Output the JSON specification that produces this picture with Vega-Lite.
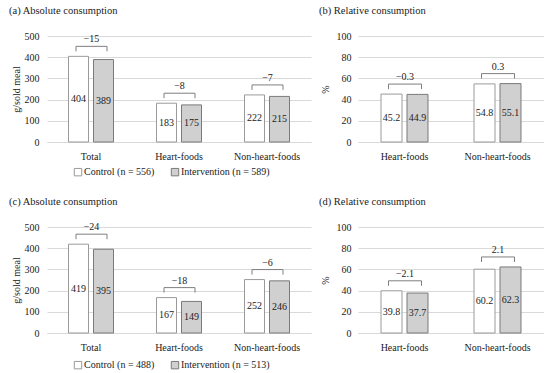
{
  "$schema": "https://vega.github.io/schema/vega-lite/v6.json",
  "padding": {"left": 9, "top": 5, "right": 0, "bottom": 0},
  "datasets": {
    "a_bars": [
      {"cat": "Total", "series": "Control", "value": 404},
      {"cat": "Total", "series": "Intervention", "value": 389},
      {"cat": "Heart-foods", "series": "Control", "value": 183},
      {"cat": "Heart-foods", "series": "Intervention", "value": 175},
      {"cat": "Non-heart-foods", "series": "Control", "value": 222},
      {"cat": "Non-heart-foods", "series": "Intervention", "value": 215}
    ],
    "a_diff": [
      {"cat": "Total", "top": 404, "diff": "−15"},
      {"cat": "Heart-foods", "top": 183, "diff": "−8"},
      {"cat": "Non-heart-foods", "top": 222, "diff": "−7"}
    ],
    "b_bars": [
      {"cat": "Heart-foods", "series": "Control", "value": 45.2},
      {"cat": "Heart-foods", "series": "Intervention", "value": 44.9},
      {"cat": "Non-heart-foods", "series": "Control", "value": 54.8},
      {"cat": "Non-heart-foods", "series": "Intervention", "value": 55.1}
    ],
    "b_diff": [
      {"cat": "Heart-foods", "top": 45.2, "diff": "−0.3"},
      {"cat": "Non-heart-foods", "top": 55.1, "diff": "0.3"}
    ],
    "c_bars": [
      {"cat": "Total", "series": "Control", "value": 419},
      {"cat": "Total", "series": "Intervention", "value": 395},
      {"cat": "Heart-foods", "series": "Control", "value": 167},
      {"cat": "Heart-foods", "series": "Intervention", "value": 149},
      {"cat": "Non-heart-foods", "series": "Control", "value": 252},
      {"cat": "Non-heart-foods", "series": "Intervention", "value": 246}
    ],
    "c_diff": [
      {"cat": "Total", "top": 419, "diff": "−24"},
      {"cat": "Heart-foods", "top": 167, "diff": "−18"},
      {"cat": "Non-heart-foods", "top": 252, "diff": "−6"}
    ],
    "d_bars": [
      {"cat": "Heart-foods", "series": "Control", "value": 39.8},
      {"cat": "Heart-foods", "series": "Intervention", "value": 37.7},
      {"cat": "Non-heart-foods", "series": "Control", "value": 60.2},
      {"cat": "Non-heart-foods", "series": "Intervention", "value": 62.3}
    ],
    "d_diff": [
      {"cat": "Heart-foods", "top": 39.8, "diff": "−2.1"},
      {"cat": "Non-heart-foods", "top": 62.3, "diff": "2.1"}
    ]
  },
  "spacing": 18,
  "resolve": {"scale": {"fill": "independent", "stroke": "independent", "y": "independent", "x": "independent", "xOffset": "independent"}, "legend": {"fill": "independent", "stroke": "independent"}},
  "vconcat": [
    {
      "spacing": 8,
      "resolve": {"scale": {"fill": "independent", "stroke": "independent", "y": "independent", "x": "independent", "xOffset": "independent"}, "legend": {"fill": "independent", "stroke": "independent"}},
      "hconcat": [
        {
          "title": {"text": "(a) Absolute consumption", "anchor": "start", "frame": "bounds", "dx": -2, "offset": 15},
          "width": 264, "height": 106,
          "encoding": {"x": {"field": "cat", "type": "nominal", "sort": ["Total", "Heart-foods", "Non-heart-foods"], "scale": {"paddingInner": 0, "paddingOuter": 0}, "axis": {"title": null, "labelAngle": 0, "ticks": false, "labelPadding": 9, "domainColor": "#d9d9d9", "grid": false}}},
          "layer": [
            {"data": {"name": "a_bars"}, "mark": {"type": "bar", "width": 20, "strokeWidth": 1},
             "encoding": {
               "xOffset": {"field": "series", "type": "nominal", "scale": {"paddingInner": 0, "paddingOuter": 0.76}},
               "y": {"field": "value", "type": "quantitative", "scale": {"domain": [0, 500]}, "axis": {"title": "g/sold meal", "values": [0, 100, 200, 300, 400, 500], "grid": true, "domain": false, "ticks": false, "labelPadding": 8, "titlePadding": 3}},
               "fill": {"field": "series", "type": "nominal", "scale": {"domain": ["Control", "Intervention"], "range": ["#ffffff", "#d0d0d0"]}, "legend": {"orient": "none", "legendX": 26, "legendY": 131, "direction": "horizontal", "title": null, "symbolType": "square", "symbolSize": 55, "columnPadding": 14, "labelOffset": 1, "labelExpr": "datum.label + ' (n = ' + (datum.label == 'Control' ? '556' : '589') + ')'"}},
               "stroke": {"field": "series", "type": "nominal", "scale": {"domain": ["Control", "Intervention"], "range": ["#9a9a9a", "#7a7a7a"]}, "legend": {"orient": "none", "legendX": 26, "legendY": 131, "direction": "horizontal", "title": null, "symbolType": "square", "symbolSize": 55, "columnPadding": 14, "labelOffset": 1, "labelExpr": "datum.label + ' (n = ' + (datum.label == 'Control' ? '556' : '589') + ')'"}}
             }},
            {"data": {"name": "a_bars"}, "mark": {"type": "text", "baseline": "middle"},
             "encoding": {
               "xOffset": {"field": "series", "type": "nominal"},
               "detail": {"field": "series"},
               "y": {"field": "value", "type": "quantitative", "stack": "zero", "bandPosition": 0.5, "axis": {"title": "g/sold meal", "values": [0, 100, 200, 300, 400, 500], "grid": true, "domain": false, "ticks": false, "labelPadding": 8, "titlePadding": 3}},
               "text": {"field": "value", "type": "quantitative", "format": "d"}
             }},
            {"data": {"name": "a_diff"}, "mark": {"type": "rule", "xOffset": -15, "x2Offset": 16, "yOffset": -10, "color": "#7f7f7f", "strokeWidth": 1},
             "encoding": {"x2": {"field": "cat"}, "y": {"field": "top", "type": "quantitative", "axis": {"title": "g/sold meal", "values": [0, 100, 200, 300, 400, 500], "grid": true, "domain": false, "ticks": false, "labelPadding": 8, "titlePadding": 3}}}},
            {"data": {"name": "a_diff"}, "mark": {"type": "rule", "xOffset": -15, "yOffset": -10, "y2Offset": -5, "color": "#7f7f7f", "strokeWidth": 1},
             "encoding": {"y": {"field": "top", "type": "quantitative", "axis": {"title": "g/sold meal", "values": [0, 100, 200, 300, 400, 500], "grid": true, "domain": false, "ticks": false, "labelPadding": 8, "titlePadding": 3}}, "y2": {"field": "top"}}},
            {"data": {"name": "a_diff"}, "mark": {"type": "rule", "xOffset": 16, "yOffset": -10, "y2Offset": -5, "color": "#7f7f7f", "strokeWidth": 1},
             "encoding": {"y": {"field": "top", "type": "quantitative", "axis": {"title": "g/sold meal", "values": [0, 100, 200, 300, 400, 500], "grid": true, "domain": false, "ticks": false, "labelPadding": 8, "titlePadding": 3}}, "y2": {"field": "top"}}},
            {"data": {"name": "a_diff"}, "mark": {"type": "text", "baseline": "middle", "yOffset": -17, "xOffset": 0.5},
             "encoding": {"y": {"field": "top", "type": "quantitative", "axis": {"title": "g/sold meal", "values": [0, 100, 200, 300, 400, 500], "grid": true, "domain": false, "ticks": false, "labelPadding": 8, "titlePadding": 3}}, "text": {"field": "diff"}}}
          ]
        },
        {
          "title": {"text": "(b) Relative consumption", "anchor": "start", "frame": "bounds", "dx": -1, "offset": 15},
          "width": 186, "height": 106,
          "encoding": {"x": {"field": "cat", "type": "nominal", "sort": ["Heart-foods", "Non-heart-foods"], "scale": {"paddingInner": 0, "paddingOuter": 0}, "axis": {"title": null, "labelAngle": 0, "ticks": false, "labelPadding": 9, "domainColor": "#d9d9d9", "grid": false}}},
          "layer": [
            {"data": {"name": "b_bars"}, "mark": {"type": "bar", "width": 21, "strokeWidth": 1},
             "encoding": {
               "xOffset": {"field": "series", "type": "nominal", "scale": {"paddingInner": 0, "paddingOuter": 0.79}},
               "y": {"field": "value", "type": "quantitative", "scale": {"domain": [0, 100]}, "axis": {"title": "%", "values": [0, 20, 40, 60, 80, 100], "grid": true, "domain": false, "ticks": false, "labelPadding": 7, "titlePadding": 6}},
               "fill": {"field": "series", "type": "nominal", "scale": {"domain": ["Control", "Intervention"], "range": ["#ffffff", "#d0d0d0"]}, "legend": null},
               "stroke": {"field": "series", "type": "nominal", "scale": {"domain": ["Control", "Intervention"], "range": ["#9a9a9a", "#7a7a7a"]}, "legend": null}
             }},
            {"data": {"name": "b_bars"}, "mark": {"type": "text", "baseline": "middle"},
             "encoding": {
               "xOffset": {"field": "series", "type": "nominal"},
               "detail": {"field": "series"},
               "y": {"field": "value", "type": "quantitative", "stack": "zero", "bandPosition": 0.5, "axis": {"title": "%", "values": [0, 20, 40, 60, 80, 100], "grid": true, "domain": false, "ticks": false, "labelPadding": 7, "titlePadding": 6}},
               "text": {"field": "value", "type": "quantitative", "format": ".1f"}
             }},
            {"data": {"name": "b_diff"}, "mark": {"type": "rule", "xOffset": -16, "x2Offset": 17, "yOffset": -10, "color": "#7f7f7f", "strokeWidth": 1},
             "encoding": {"x2": {"field": "cat"}, "y": {"field": "top", "type": "quantitative", "axis": {"title": "%", "values": [0, 20, 40, 60, 80, 100], "grid": true, "domain": false, "ticks": false, "labelPadding": 7, "titlePadding": 6}}}},
            {"data": {"name": "b_diff"}, "mark": {"type": "rule", "xOffset": -16, "yOffset": -10, "y2Offset": -5, "color": "#7f7f7f", "strokeWidth": 1},
             "encoding": {"y": {"field": "top", "type": "quantitative", "axis": {"title": "%", "values": [0, 20, 40, 60, 80, 100], "grid": true, "domain": false, "ticks": false, "labelPadding": 7, "titlePadding": 6}}, "y2": {"field": "top"}}},
            {"data": {"name": "b_diff"}, "mark": {"type": "rule", "xOffset": 17, "yOffset": -10, "y2Offset": -5, "color": "#7f7f7f", "strokeWidth": 1},
             "encoding": {"y": {"field": "top", "type": "quantitative", "axis": {"title": "%", "values": [0, 20, 40, 60, 80, 100], "grid": true, "domain": false, "ticks": false, "labelPadding": 7, "titlePadding": 6}}, "y2": {"field": "top"}}},
            {"data": {"name": "b_diff"}, "mark": {"type": "text", "baseline": "middle", "yOffset": -17, "xOffset": 0.5},
             "encoding": {"y": {"field": "top", "type": "quantitative", "axis": {"title": "%", "values": [0, 20, 40, 60, 80, 100], "grid": true, "domain": false, "ticks": false, "labelPadding": 7, "titlePadding": 6}}, "text": {"field": "diff"}}}
          ]
        }
      ]
    },
    {
      "spacing": 8,
      "resolve": {"scale": {"fill": "independent", "stroke": "independent", "y": "independent", "x": "independent", "xOffset": "independent"}, "legend": {"fill": "independent", "stroke": "independent"}},
      "hconcat": [
        {
          "title": {"text": "(c) Absolute consumption", "anchor": "start", "frame": "bounds", "dx": -2, "offset": 15},
          "width": 264, "height": 106,
          "encoding": {"x": {"field": "cat", "type": "nominal", "sort": ["Total", "Heart-foods", "Non-heart-foods"], "scale": {"paddingInner": 0, "paddingOuter": 0}, "axis": {"title": null, "labelAngle": 0, "ticks": false, "labelPadding": 9, "domainColor": "#d9d9d9", "grid": false}}},
          "layer": [
            {"data": {"name": "c_bars"}, "mark": {"type": "bar", "width": 20, "strokeWidth": 1},
             "encoding": {
               "xOffset": {"field": "series", "type": "nominal", "scale": {"paddingInner": 0, "paddingOuter": 0.76}},
               "y": {"field": "value", "type": "quantitative", "scale": {"domain": [0, 500]}, "axis": {"title": "g/sold meal", "values": [0, 100, 200, 300, 400, 500], "grid": true, "domain": false, "ticks": false, "labelPadding": 8, "titlePadding": 3}},
               "fill": {"field": "series", "type": "nominal", "scale": {"domain": ["Control", "Intervention"], "range": ["#ffffff", "#d0d0d0"]}, "legend": {"orient": "none", "legendX": 26, "legendY": 133, "direction": "horizontal", "title": null, "symbolType": "square", "symbolSize": 55, "columnPadding": 14, "labelOffset": 1, "labelExpr": "datum.label + ' (n = ' + (datum.label == 'Control' ? '488' : '513') + ')'"}},
               "stroke": {"field": "series", "type": "nominal", "scale": {"domain": ["Control", "Intervention"], "range": ["#9a9a9a", "#7a7a7a"]}, "legend": {"orient": "none", "legendX": 26, "legendY": 133, "direction": "horizontal", "title": null, "symbolType": "square", "symbolSize": 55, "columnPadding": 14, "labelOffset": 1, "labelExpr": "datum.label + ' (n = ' + (datum.label == 'Control' ? '488' : '513') + ')'"}}
             }},
            {"data": {"name": "c_bars"}, "mark": {"type": "text", "baseline": "middle"},
             "encoding": {
               "xOffset": {"field": "series", "type": "nominal"},
               "detail": {"field": "series"},
               "y": {"field": "value", "type": "quantitative", "stack": "zero", "bandPosition": 0.5, "axis": {"title": "g/sold meal", "values": [0, 100, 200, 300, 400, 500], "grid": true, "domain": false, "ticks": false, "labelPadding": 8, "titlePadding": 3}},
               "text": {"field": "value", "type": "quantitative", "format": "d"}
             }},
            {"data": {"name": "c_diff"}, "mark": {"type": "rule", "xOffset": -15, "x2Offset": 16, "yOffset": -10, "color": "#7f7f7f", "strokeWidth": 1},
             "encoding": {"x2": {"field": "cat"}, "y": {"field": "top", "type": "quantitative", "axis": {"title": "g/sold meal", "values": [0, 100, 200, 300, 400, 500], "grid": true, "domain": false, "ticks": false, "labelPadding": 8, "titlePadding": 3}}}},
            {"data": {"name": "c_diff"}, "mark": {"type": "rule", "xOffset": -15, "yOffset": -10, "y2Offset": -5, "color": "#7f7f7f", "strokeWidth": 1},
             "encoding": {"y": {"field": "top", "type": "quantitative", "axis": {"title": "g/sold meal", "values": [0, 100, 200, 300, 400, 500], "grid": true, "domain": false, "ticks": false, "labelPadding": 8, "titlePadding": 3}}, "y2": {"field": "top"}}},
            {"data": {"name": "c_diff"}, "mark": {"type": "rule", "xOffset": 16, "yOffset": -10, "y2Offset": -5, "color": "#7f7f7f", "strokeWidth": 1},
             "encoding": {"y": {"field": "top", "type": "quantitative", "axis": {"title": "g/sold meal", "values": [0, 100, 200, 300, 400, 500], "grid": true, "domain": false, "ticks": false, "labelPadding": 8, "titlePadding": 3}}, "y2": {"field": "top"}}},
            {"data": {"name": "c_diff"}, "mark": {"type": "text", "baseline": "middle", "yOffset": -17, "xOffset": 0.5},
             "encoding": {"y": {"field": "top", "type": "quantitative", "axis": {"title": "g/sold meal", "values": [0, 100, 200, 300, 400, 500], "grid": true, "domain": false, "ticks": false, "labelPadding": 8, "titlePadding": 3}}, "text": {"field": "diff"}}}
          ]
        },
        {
          "title": {"text": "(d) Relative consumption", "anchor": "start", "frame": "bounds", "dx": -1, "offset": 15},
          "width": 186, "height": 106,
          "encoding": {"x": {"field": "cat", "type": "nominal", "sort": ["Heart-foods", "Non-heart-foods"], "scale": {"paddingInner": 0, "paddingOuter": 0}, "axis": {"title": null, "labelAngle": 0, "ticks": false, "labelPadding": 9, "domainColor": "#d9d9d9", "grid": false}}},
          "layer": [
            {"data": {"name": "d_bars"}, "mark": {"type": "bar", "width": 21, "strokeWidth": 1},
             "encoding": {
               "xOffset": {"field": "series", "type": "nominal", "scale": {"paddingInner": 0, "paddingOuter": 0.79}},
               "y": {"field": "value", "type": "quantitative", "scale": {"domain": [0, 100]}, "axis": {"title": "%", "values": [0, 20, 40, 60, 80, 100], "grid": true, "domain": false, "ticks": false, "labelPadding": 7, "titlePadding": 6}},
               "fill": {"field": "series", "type": "nominal", "scale": {"domain": ["Control", "Intervention"], "range": ["#ffffff", "#d0d0d0"]}, "legend": null},
               "stroke": {"field": "series", "type": "nominal", "scale": {"domain": ["Control", "Intervention"], "range": ["#9a9a9a", "#7a7a7a"]}, "legend": null}
             }},
            {"data": {"name": "d_bars"}, "mark": {"type": "text", "baseline": "middle"},
             "encoding": {
               "xOffset": {"field": "series", "type": "nominal"},
               "detail": {"field": "series"},
               "y": {"field": "value", "type": "quantitative", "stack": "zero", "bandPosition": 0.5, "axis": {"title": "%", "values": [0, 20, 40, 60, 80, 100], "grid": true, "domain": false, "ticks": false, "labelPadding": 7, "titlePadding": 6}},
               "text": {"field": "value", "type": "quantitative", "format": ".1f"}
             }},
            {"data": {"name": "d_diff"}, "mark": {"type": "rule", "xOffset": -16, "x2Offset": 17, "yOffset": -10, "color": "#7f7f7f", "strokeWidth": 1},
             "encoding": {"x2": {"field": "cat"}, "y": {"field": "top", "type": "quantitative", "axis": {"title": "%", "values": [0, 20, 40, 60, 80, 100], "grid": true, "domain": false, "ticks": false, "labelPadding": 7, "titlePadding": 6}}}},
            {"data": {"name": "d_diff"}, "mark": {"type": "rule", "xOffset": -16, "yOffset": -10, "y2Offset": -5, "color": "#7f7f7f", "strokeWidth": 1},
             "encoding": {"y": {"field": "top", "type": "quantitative", "axis": {"title": "%", "values": [0, 20, 40, 60, 80, 100], "grid": true, "domain": false, "ticks": false, "labelPadding": 7, "titlePadding": 6}}, "y2": {"field": "top"}}},
            {"data": {"name": "d_diff"}, "mark": {"type": "rule", "xOffset": 17, "yOffset": -10, "y2Offset": -5, "color": "#7f7f7f", "strokeWidth": 1},
             "encoding": {"y": {"field": "top", "type": "quantitative", "axis": {"title": "%", "values": [0, 20, 40, 60, 80, 100], "grid": true, "domain": false, "ticks": false, "labelPadding": 7, "titlePadding": 6}}, "y2": {"field": "top"}}},
            {"data": {"name": "d_diff"}, "mark": {"type": "text", "baseline": "middle", "yOffset": -17, "xOffset": 0.5},
             "encoding": {"y": {"field": "top", "type": "quantitative", "axis": {"title": "%", "values": [0, 20, 40, 60, 80, 100], "grid": true, "domain": false, "ticks": false, "labelPadding": 7, "titlePadding": 6}}, "text": {"field": "diff"}}}
          ]
        }
      ]
    }
  ],
  "config": {
    "font": "Liberation Serif",
    "view": {"stroke": null},
    "axis": {"labelFontSize": 10, "labelColor": "#222222", "titleFontSize": 10, "titleFontWeight": "normal", "titleColor": "#222222", "gridColor": "#d9d9d9", "labelFont": "Liberation Serif", "titleFont": "Liberation Serif"},
    "axisY": {"labelOverlap": false},
    "title": {"fontSize": 10.5, "fontWeight": "normal", "color": "#222222", "font": "Liberation Serif"},
    "legend": {"labelFontSize": 10, "labelColor": "#222222", "labelFont": "Liberation Serif", "symbolStrokeWidth": 1},
    "text": {"fontSize": 10, "color": "#222222", "font": "Liberation Serif"}
  }
}
